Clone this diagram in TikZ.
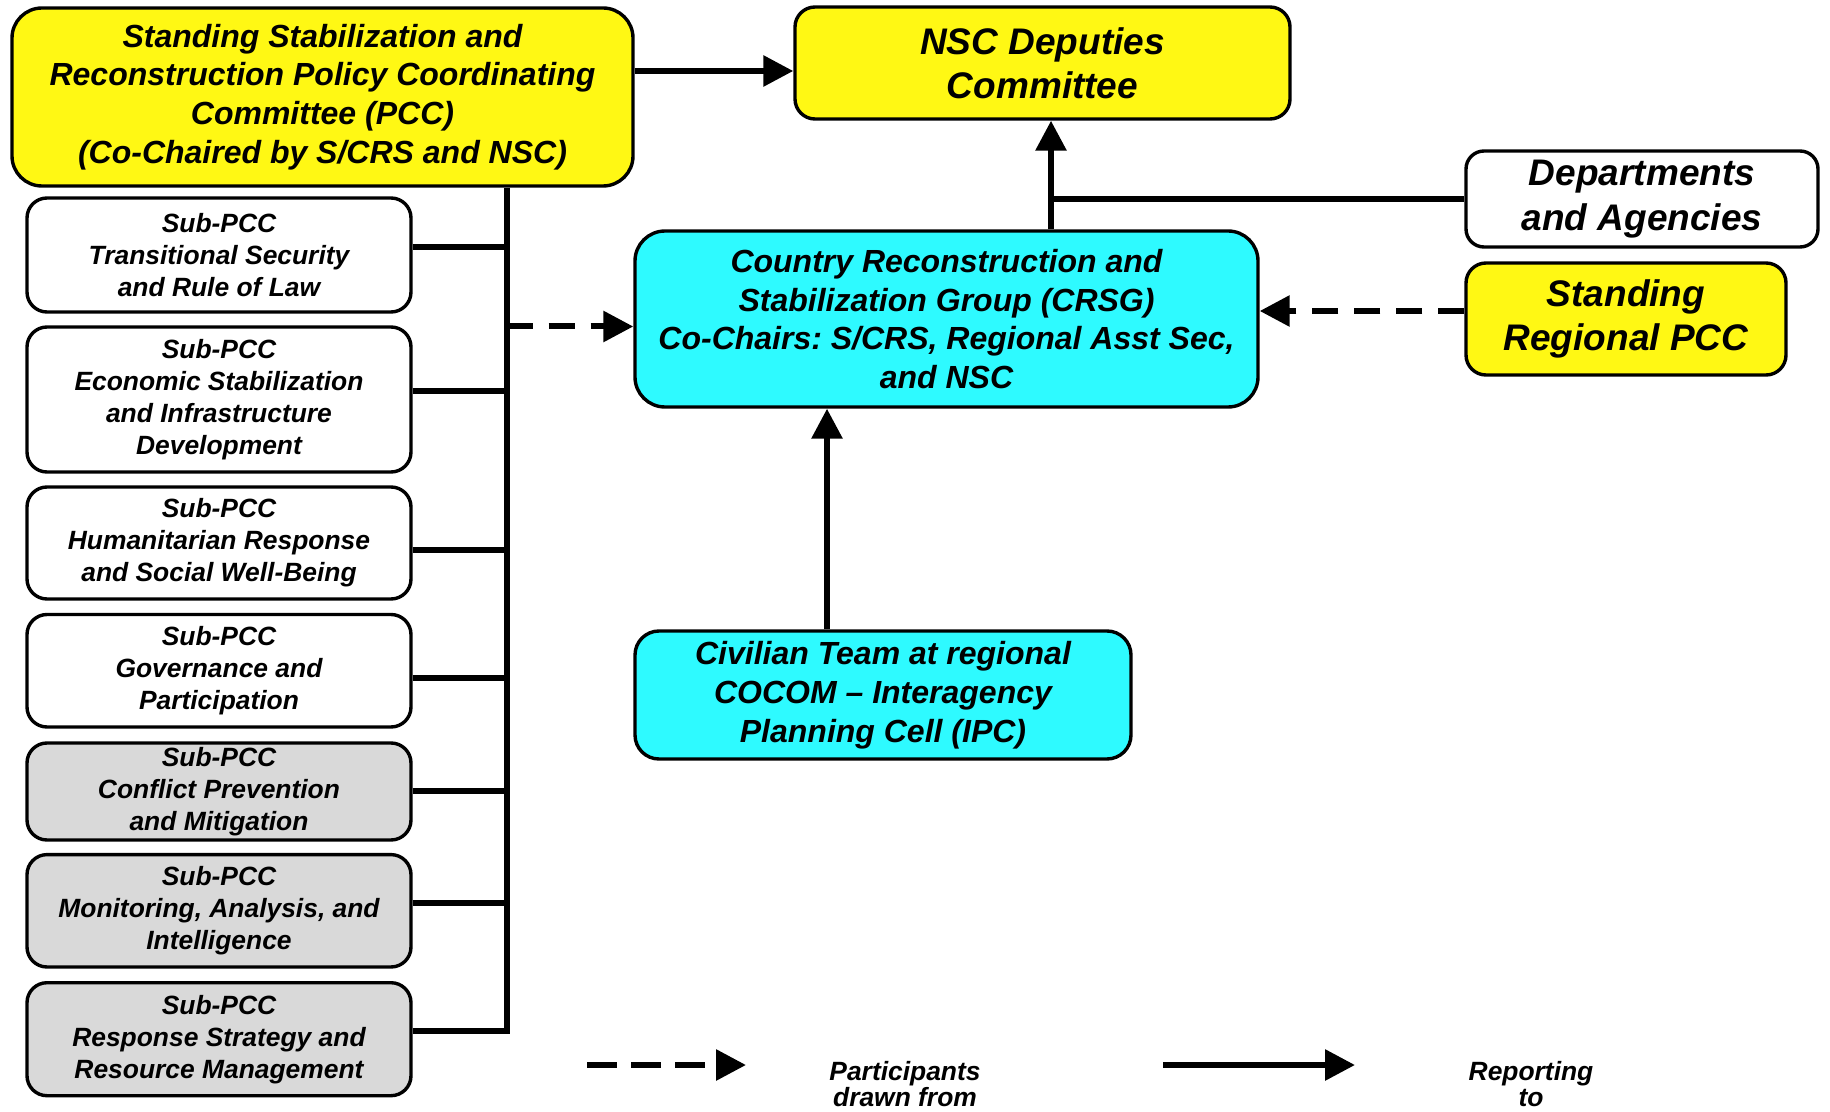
\documentclass[tikz,border=0pt]{standalone}
\usepackage{fontspec}
\setmainfont{Liberation Sans}
\usetikzlibrary{arrows.meta}
\definecolor{boxyellow}{RGB}{255,248,20}
\definecolor{boxcyan}{RGB}{46,250,255}
\definecolor{boxgray}{RGB}{217,217,217}
\frenchspacing
\begin{document}
\begin{tikzpicture}[x=0.5pt,y=-0.5pt,
  box/.style={draw=black, line width=1.7pt, align=center, inner sep=1pt},
  bigfont/.style={font=\fontsize{16}{19.4}\selectfont\bfseries\itshape},
  hugefont/.style={font=\fontsize{18.5}{22.2}\selectfont\bfseries\itshape},
  subfont/.style={font=\fontsize{13.2}{16}\selectfont\bfseries\itshape},
  legfont/.style={font=\fontsize{13.2}{13.4}\selectfont\bfseries\itshape, align=center, inner sep=0pt},
  subbox/.style={box, subfont, rounded corners=10pt, minimum width=192pt},
  conn/.style={line width=3pt},
  arr/.style={line width=3pt, -{Triangle[length=15pt,width=15pt]}},
  dsh/.style={dash pattern=on 13pt off 8pt},
  ldsh/.style={dash pattern=on 15pt off 7pt}
]
\useasboundingbox (0,0) rectangle (1830,1112);

% main boxes
\node[box, fill=boxyellow, rounded corners=15pt, minimum width=310.5pt, minimum height=89pt, bigfont] (pcc) at (322.5,97)
  {Standing Stabilization and\\Reconstruction Policy Coordinating\\Committee (PCC)\\(Co-Chaired by S/CRS and NSC)};
\node[box, fill=boxyellow, rounded corners=10pt, minimum width=247.5pt, minimum height=56pt, hugefont] (nsc) at (1042.5,63)
  {NSC Deputies\\Committee};
\node[box, fill=white, rounded corners=9pt, minimum width=176pt, minimum height=48pt, hugefont] (dept) at (1642,199)
  {Departments\\and Agencies};
\node[box, fill=boxyellow, rounded corners=10pt, minimum width=160pt, minimum height=56pt, hugefont] (sr) at (1626,319)
  {Standing\\Regional PCC};
\node[box, fill=boxcyan, rounded corners=15pt, minimum width=311.5pt, minimum height=88pt, bigfont] (crsg) at (946.5,319)
  {Country Reconstruction and\\Stabilization Group (CRSG)\\Co-Chairs: S/CRS, Regional Asst Sec,\\and NSC};
\node[box, fill=boxcyan, rounded corners=12pt, minimum width=248pt, minimum height=64pt, bigfont] (civ) at (883,695)
  {Civilian Team at regional\\COCOM – Interagency\\Planning Cell (IPC)};

% sub-PCC boxes
\node[subbox, fill=white, minimum height=57pt] (s1) at (219,255)
  {Sub-PCC\\Transitional Security\\and Rule of Law};
\node[subbox, fill=white, minimum height=72.5pt] (s2) at (219,399.5)
  {Sub-PCC\\Economic Stabilization\\and Infrastructure\\Development};
\node[subbox, fill=white, minimum height=56pt] (s3) at (219,543)
  {Sub-PCC\\Humanitarian Response\\and Social Well-Being};
\node[subbox, fill=white, minimum height=56.25pt] (s4) at (219,670.75)
  {Sub-PCC\\Governance and\\Participation};
\node[subbox, fill=boxgray, minimum height=48.5pt] (s5) at (219,791.5)
  {Sub-PCC\\Conflict Prevention\\and Mitigation};
\node[subbox, fill=boxgray, minimum height=56.2pt] (s6) at (219,910.8)
  {Sub-PCC\\Monitoring, Analysis, and\\Intelligence};
\node[subbox, fill=boxgray, minimum height=56.5pt] (s7) at (219,1039.2)
  {Sub-PCC\\Response Strategy and\\Resource Management};

% trunk and sub connectors
\coordinate (tTop) at (pcc.south -| 506.5,0);
\coordinate (tBot) at (506.5,1030.5);
\draw[conn] (tTop) -- (tBot) -- (s7.east |- tBot);
\foreach \s/\y in {s1/246.7, s2/390.7, s3/550, s4/678, s5/791, s6/902.5}
  \draw[conn] (\s.east |- 0,\y) -- (tTop |- 0,\y);

% arrows
\draw[arr,dsh] (tTop |- 0,326.5) -- (crsg.west |- 0,326.5);
\draw[arr] (pcc.east |- 0,71) -- (nsc.west |- 0,71);
\draw[arr] (crsg.north -| 1051,0) -- (nsc.south -| 1051,0);
\draw[conn] (dept.west) -- (dept.west -| 1051,0);
\draw[arr,dsh] (sr.west |- 0,311) -- (crsg.east |- 0,311);
\draw[arr] (civ.north -| 827,0) -- (crsg.south -| 827,0);

% legend
\coordinate (l1s) at (587,1065);
\coordinate (l1e) at (746,1065);
\coordinate (l2s) at (1163,1065);
\coordinate (l2e) at (1355,1065);
\draw[arr,ldsh] (l1s) -- (l1e);
\draw[arr] (l2s) -- (l2e);
\node[legfont] (lt1) at (905,1084) {Participants\\drawn from};
\node[legfont] (lt2) at (1531,1084) {Reporting\\to};
\end{tikzpicture}
\end{document}
